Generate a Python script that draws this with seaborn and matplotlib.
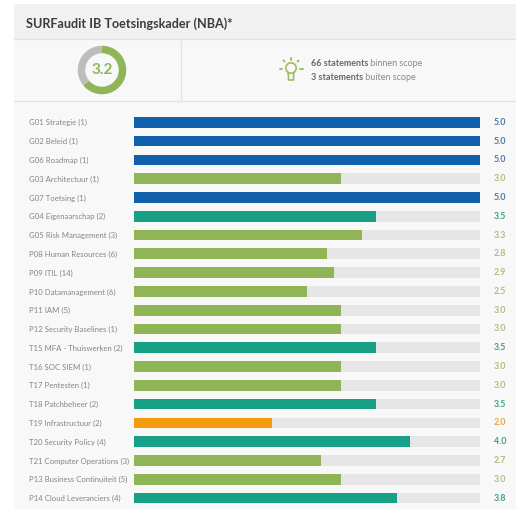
# -*- coding: utf-8 -*-
#%% libraries
import numpy as np
import pandas as pd
import matplotlib.pyplot as plt
import seaborn as sns
from matplotlib.patches import Rectangle, Circle

#%% data
labels = ["G01 Strategie (1)", "G02 Beleid (1)", "G06 Roadmap (1)", "G03 Architectuur (1)",
          "G07 Toetsing (1)", "G04 Eigenaarschap (2)", "G05 Risk Management (3)",
          "P08 Human Resources (6)", "P09 ITIL (14)", "P10 Datamanagement (6)", "P11 IAM (5)",
          "P12 Security Baselines (1)", "T15 MFA - Thuiswerken (2)", "T16 SOC SIEM (1)",
          "T17 Pentesten (1)", "T18 Patchbeheer (2)", "T19 Infrastructuur (2)",
          "T20 Security Policy (4)", "T21 Computer Operations (3)",
          "P13 Business Continuiteit (5)", "P14 Cloud Leveranciers (4)"]
values = [5.0, 5.0, 5.0, 3.0, 5.0, 3.5, 3.3, 2.8, 2.9, 2.5, 3.0,
          3.0, 3.5, 3.0, 3.0, 3.5, 2.0, 4.0, 2.7, 3.0, 3.8]
groups = ["blue", "blue", "blue", "green", "blue", "teal", "green", "green", "green", "green", "green",
          "green", "teal", "green", "green", "teal", "orange", "teal", "green", "green", "teal"]
max_score = 5.0
score = 3.2

bar_colors = {"blue": "#1160ab", "green": "#8fb556", "teal": "#17a085", "orange": "#f59c0c"}
text_colors = {"blue": "#4a7aa8", "green": "#a9c27c", "teal": "#3f9f8c", "orange": "#eda544"}

df = pd.DataFrame({"label": labels, "value": values, "group": groups})
df["track"] = max_score

#%% figure
W, H = 516, 511
sns.set_theme(style="white")
plt.rcParams["font.family"] = ["Lato", "DejaVu Sans"]
fig = plt.figure(figsize=(W / 100, H / 100), dpi=100, facecolor="white")

# panel in pixel coordinates
bg = fig.add_axes([0, 0, 1, 1])
bg.set_xlim(0, W)
bg.set_ylim(H, 0)
bg.axis("off")
bg.add_patch(Rectangle((14, 4), W - 14, H - 5, color="#f8f8f8", lw=0))
bg.add_patch(Rectangle((14, 4), W - 14, 35, color="#f1f1f1", lw=0))
bg.plot([14, W], [39, 39], color="#e2e2e2", lw=0.9)
bg.plot([14, W], [101, 101], color="#e2e2e2", lw=0.9)
bg.plot([181, 181], [39, 101], color="#e2e2e2", lw=0.9)
bg.text(26, 23.5, "SURFaudit IB Toetsingskader (NBA)*", fontsize=9.1, fontweight="bold",
        color="#3c3c3c", va="center", ha="left")

# bulb icon
icon = "#9bbd66"
bg.add_patch(Circle((291, 68), 5.2, fill=False, ec=icon, lw=1.2))
bg.plot([288, 288.5, 288.5, 293.5, 293.5, 294], [72.5, 75.5, 80, 80, 75.5, 72.5], color=icon, lw=1.2)
for x0, y0, x1, y1 in [(291, 58, 291, 60), (283.5, 60.5, 284.5, 61.5), (298.5, 60.5, 297.5, 61.5),
                       (279.5, 69, 282, 69), (300, 69, 302.5, 69)]:
    bg.plot([x0, x1], [y0, y1], color=icon, lw=1.4)

# scope text
t1 = bg.text(311, 63, "66 statements", fontsize=6.45, fontweight="bold", color="#6a6a6a", va="center")
bg.annotate(" binnen scope", xy=(1, 0.5), xycoords=t1, fontsize=6.45, color="#8a8a8a", va="center")
t2 = bg.text(311, 77.5, "3 statements", fontsize=6.45, fontweight="bold", color="#6a6a6a", va="center")
bg.annotate(" buiten scope", xy=(1, 0.5), xycoords=t2, fontsize=6.45, color="#8a8a8a", va="center")

#%% donut
ax_d = fig.add_axes([(102 - 25) / W, 1 - (70 + 25) / H, 50 / W, 50 / H])
ax_d.pie([score, max_score - score], colors=["#8fb556", "#bdbdbd"], startangle=90, counterclock=False,
         radius=0.97, wedgeprops={"width": 0.3, "linewidth": 0})
ax_d.set_xlim(-1, 1)
ax_d.set_ylim(-1, 1)
ax_d.text(0, 0, f"{score:.1f}", ha="center", va="center", fontsize=11, fontweight="bold", color="#8fb556")

#%% bars
top, bottom = 112.9, 507.4
left, right = 134, 479.5
ax = fig.add_axes([left / W, 1 - bottom / H, (right - left) / W, (bottom - top) / H])
ax.patch.set_alpha(0)
sns.barplot(data=df, x="track", y="label", color="#e6e6e6", width=0.57, saturation=1, linewidth=0, ax=ax)
sns.barplot(data=df, x="value", y="label", hue="group", palette=bar_colors, dodge=False,
            width=0.57, saturation=1, linewidth=0, legend=False, ax=ax)
ax.set_xlim(0, max_score)
ax.set_ylim(len(labels) - 0.5, -0.5)
ax.set_xlabel("")
ax.set_ylabel("")
ax.set_xticks([])
sns.despine(ax=ax, left=True, bottom=True)
ax.tick_params(axis="y", length=0, pad=75.5, labelsize=5.6, labelcolor="#858585")
for tick in ax.get_yticklabels():
    tick.set_ha("left")

for i, (v, g) in enumerate(zip(values, groups)):
    ax.annotate(f"{v:.1f}", xy=(max_score, i), xytext=(10.5, 0), textcoords="offset points",
                fontsize=6.4, fontweight="bold", color=text_colors[g], va="center", ha="left",
                annotation_clip=False)

fig.savefig("out.png", dpi=100)
